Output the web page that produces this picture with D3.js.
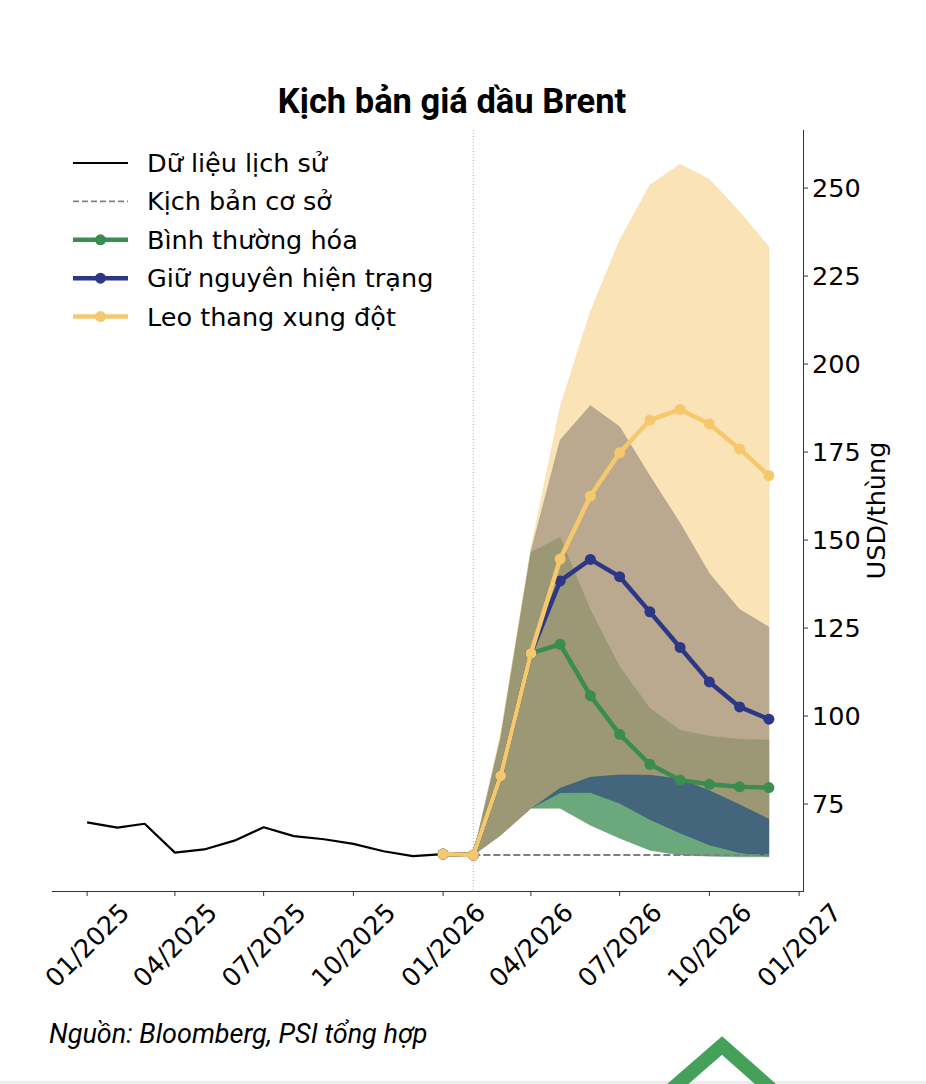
<!DOCTYPE html>
<html lang="vi">
<head>
<meta charset="UTF-8">
<title>Kịch bản giá dầu Brent</title>
<script src="https://d3js.org/d3.v7.min.js"></script>
<style>
  body { margin: 0; background: #fff; }
  svg { display: block; }
  .tick-label, .legend-label, .y-label { font-family: "DejaVu Sans", sans-serif; font-size: 25.5px; fill: #000; }
  .title { font-family: Roboto, sans-serif; font-weight: 700; font-size: 34.5px; }
  .source { font-family: Roboto, sans-serif; font-style: italic; font-size: 27px; }
</style>
</head>
<body>
<svg id="chart" width="926" height="1084"></svg>
<script>
// historical Brent (monthly)
const histMonths = ["2025-01","2025-02","2025-03","2025-04","2025-05","2025-06","2025-07",
                    "2025-08","2025-09","2025-10","2025-11","2025-12","2026-01"];
const histValues = [69.8, 68.3, 69.4, 61.2, 62.1, 64.6, 68.4, 65.9, 65.0, 63.7, 61.6, 60.2, 60.8];

// scenario lines Jan 2026 -> Dec 2026
const scenMonths = ["2026-01","2026-02","2026-03","2026-04","2026-05","2026-06",
                    "2026-07","2026-08","2026-09","2026-10","2026-11","2026-12"];
const normalLine    = [60.8, 60.5, 83.0, 117.8, 120.4, 105.8, 94.8, 86.3, 81.8, 80.6, 79.9, 79.7];
const statusQuoLine = [60.8, 60.5, 83.0, 117.8, 138.4, 144.5, 139.6, 129.6, 119.5, 109.7, 102.6, 99.1];
const escalateLine  = [60.8, 60.5, 83.0, 117.8, 144.6, 162.5, 174.8, 184.1, 187.1, 183.0, 175.9, 168.3];

// ranges Feb 2026 -> Dec 2026
const bandMonths = ["2026-02","2026-03","2026-04","2026-05","2026-06","2026-07",
                    "2026-08","2026-09","2026-10","2026-11","2026-12"];
const baseCase     = [60.5, 60.5, 60.5, 60.5, 60.5, 60.5, 60.5, 60.5, 60.5, 60.5, 60.5];
const normalLow    = [60.5, 66.2, 73.8, 73.8, 69.0, 65.3, 61.9, 60.5, 60.2, 60.0, 60.0];
const normalHigh   = [60.5, 93.5, 146.5, 150.8, 130.1, 114.0, 102.2, 96.0, 94.3, 93.4, 93.2];
const statusLow    = [60.5, 66.2, 73.8, 78.2, 78.3, 75.2, 70.6, 66.8, 63.4, 61.2, 60.2];
const statusHigh   = [60.5, 94.0, 146.7, 178.4, 188.2, 182.2, 168.2, 154.8, 140.5, 130.3, 125.3];
const escalateLow  = [60.5, 66.2, 73.8, 79.7, 82.8, 83.5, 83.4, 82.3, 79.0, 75.0, 70.9];
const escalateHigh = [60.5, 95.0, 147.5, 187.9, 214.9, 235.2, 250.9, 256.8, 252.5, 243.3, 233.3];

const xTickDates  = ["2025-01","2025-04","2025-07","2025-10","2026-01","2026-04","2026-07","2026-10","2027-01"];
const xTickLabels = ["01/2025","04/2025","07/2025","10/2025","01/2026","04/2026","07/2026","10/2026","01/2027"];
const yTicks = [75, 100, 125, 150, 175, 200, 225, 250];

const divider = "2026-02";

const colors = { hist: "#000", base: "#808080", normal: "#3a8c50", status: "#2c3786", escalate: "#f5c86e" };
const fills  = {
  normal:   { c: "rgb(58,140,80)", o: 0.75 },
  status:   { c: "rgb(40,58,125)", o: 0.6 },
  escalate: { c: "rgb(245,200,110)", o: 0.5 }
};

const legendItems = [
  { label: "Dữ liệu lịch sử", key: "hist" },
  { label: "Kịch bản cơ sở", key: "base" },
  { label: "Bình thường hóa", key: "normal" },
  { label: "Giữ nguyên hiện trạng", key: "status" },
  { label: "Leo thang xung đột", key: "escalate" }
];

const parse = d3.timeParse("%Y-%m");
const svg = d3.select("#chart");

const plotL = 52, plotR = 803, plotT = 130, plotB = 891;

const x = d3.scaleTime()
  .domain([new Date(2024, 10, 26), new Date(2027, 0, 5)])
  .range([plotL, plotR]);
const y = d3.scaleLinear().domain([50.3, 266.5]).range([plotB, plotT]);

// title
svg.append("text").attr("class", "title")
  .attr("x", 452).attr("y", 113).attr("text-anchor", "middle")
  .text("Kịch bản giá dầu Brent");

// bands
function band(lo, hi, f) {
  const data = bandMonths.map((m, i) => ({ d: parse(m), lo: lo[i], hi: hi[i] }));
  const area = d3.area().x(d => x(d.d)).y0(d => y(d.lo)).y1(d => y(d.hi));
  svg.append("path").datum(data)
    .attr("d", area)
    .attr("fill", f.c).attr("fill-opacity", f.o)
    .attr("stroke", f.c).attr("stroke-opacity", f.o * 0.6).attr("stroke-width", 0.8);
}
band(normalLow, normalHigh, fills.normal);
band(statusLow, statusHigh, fills.status);
band(escalateLow, escalateHigh, fills.escalate);

// divider
svg.append("line")
  .attr("x1", x(parse(divider))).attr("x2", x(parse(divider)))
  .attr("y1", plotT).attr("y2", plotB)
  .attr("stroke", "#aaa").attr("stroke-width", 0.9).attr("stroke-dasharray", "1,2");

// base case
const line = d3.line().x(d => x(d.d)).y(d => y(d.v));
svg.append("path")
  .datum(bandMonths.map((m, i) => ({ d: parse(m), v: baseCase[i] })))
  .attr("d", line).attr("fill", "none")
  .attr("stroke", colors.base).attr("stroke-width", 2).attr("stroke-dasharray", "7,3");

// history
svg.append("path")
  .datum(histMonths.map((m, i) => ({ d: parse(m), v: histValues[i] })))
  .attr("d", line).attr("fill", "none")
  .attr("stroke", colors.hist).attr("stroke-width", 2.2).attr("stroke-linejoin", "round");

// scenario lines
function scenario(vals, col) {
  const data = scenMonths.map((m, i) => ({ d: parse(m), v: vals[i] }));
  const g = svg.append("g");
  g.append("path").datum(data).attr("d", line).attr("fill", "none")
    .attr("stroke", col).attr("stroke-width", 4.5).attr("stroke-linejoin", "round");
  g.selectAll("circle").data(data).join("circle")
    .attr("cx", d => x(d.d)).attr("cy", d => y(d.v)).attr("r", 5.5).attr("fill", col);
}
scenario(normalLine, colors.normal);
scenario(statusQuoLine, colors.status);
scenario(escalateLine, colors.escalate);

// axes
const axisCol = "#333";
svg.append("line").attr("x1", plotL).attr("x2", plotR + 0.5).attr("y1", plotB + 0.5).attr("y2", plotB + 0.5)
  .attr("stroke", axisCol).attr("stroke-width", 1);
svg.append("line").attr("x1", plotR + 0.5).attr("x2", plotR + 0.5).attr("y1", plotT).attr("y2", plotB + 1)
  .attr("stroke", axisCol).attr("stroke-width", 1);

const xt = svg.append("g");
xTickDates.forEach((m, i) => {
  const px = x(parse(m));
  xt.append("line").attr("x1", px).attr("x2", px).attr("y1", plotB + 1).attr("y2", plotB + 5)
    .attr("stroke", axisCol).attr("stroke-width", 1);
  xt.append("text").attr("class", "tick-label")
    .attr("transform", `translate(${px},${945}) rotate(-45)`)
    .attr("text-anchor", "middle").attr("dominant-baseline", "central")
    .text(xTickLabels[i]);
});

const yt = svg.append("g");
yTicks.forEach(v => {
  const py = y(v);
  yt.append("line").attr("x1", plotR + 1).attr("x2", plotR + 5).attr("y1", py).attr("y2", py)
    .attr("stroke", axisCol).attr("stroke-width", 1);
  yt.append("text").attr("class", "tick-label")
    .attr("x", plotR + 9).attr("y", py).attr("dominant-baseline", "central")
    .text(v);
});

svg.append("text").attr("class", "y-label")
  .attr("transform", `translate(876,${(plotT + plotB) / 2}) rotate(-90)`)
  .attr("text-anchor", "middle").attr("dominant-baseline", "central")
  .text("USD/thùng");

// legend
const lg = svg.append("g");
legendItems.forEach((it, i) => {
  const cy = 163 + i * 38.4;
  const ln = lg.append("line").attr("x1", 73).attr("x2", 128).attr("y1", cy).attr("y2", cy)
    .attr("stroke", colors[it.key]);
  if (it.key === "hist") ln.attr("stroke-width", 2);
  else if (it.key === "base") ln.attr("stroke-width", 1.8).attr("stroke-dasharray", "6,3");
  else {
    ln.attr("stroke-width", 4.5);
    lg.append("circle").attr("cx", 100.5).attr("cy", cy).attr("r", 5.5).attr("fill", colors[it.key]);
  }
  lg.append("text").attr("class", "legend-label")
    .attr("x", 147).attr("y", cy).attr("dominant-baseline", "central")
    .text(it.label);
});

// source
svg.append("text").attr("class", "source")
  .attr("x", 49).attr("y", 1043).text("Nguồn: Bloomberg, PSI tổng hợp");

// logo mark
svg.append("rect").attr("x", 0).attr("y", 1081).attr("width", 926).attr("height", 3).attr("fill", "#ececec");
svg.append("polyline")
  .attr("points", "664,1096 722,1045.5 779,1096")
  .attr("fill", "none").attr("stroke", "#45a05a").attr("stroke-width", 14)
  .attr("stroke-linejoin", "miter");
</script>
</body>
</html>
